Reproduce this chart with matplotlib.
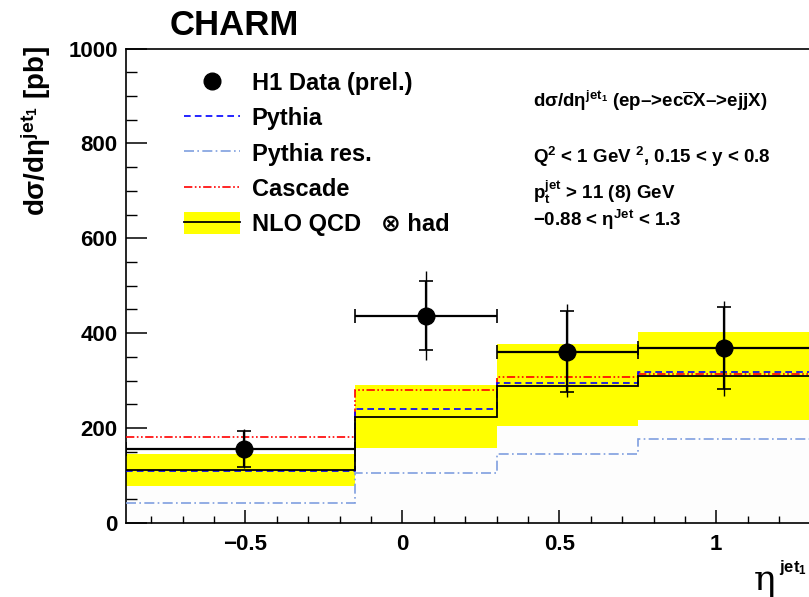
import numpy as np
import matplotlib
matplotlib.use("Agg")
import matplotlib.pyplot as plt
from matplotlib.lines import Line2D
from matplotlib.patches import Patch
from matplotlib.ticker import MultipleLocator

plt.rcParams['font.family'] = ['Liberation Sans', 'DejaVu Sans']
plt.rcParams['font.weight'] = 'bold'
plt.rcParams['mathtext.fontset'] = 'custom'
plt.rcParams['mathtext.rm'] = 'Liberation Sans:bold'
plt.rcParams['mathtext.it'] = 'Liberation Sans:bold'
plt.rcParams['mathtext.bf'] = 'Liberation Sans:bold'

# ---- data ----
bin_edges = [-0.88, -0.15, 0.30, 0.75, 1.30]
data_x = [-0.505, 0.075, 0.525, 1.025]
data_y = [155, 437, 361, 368]
stat_lo = [118, 365, 275, 282]
stat_hi = [193, 510, 446, 455]
tot_lo = [115, 343, 265, 267]
tot_hi = [198, 531, 461, 467]
nlo = [111, 223, 288, 309]
nlo_lo = [77, 157, 203, 216]
nlo_hi = [145, 290, 378, 402]
pythia = [110, 240, 295, 318]
pythia_res = [42, 105, 145, 177]
cascade = [181, 280, 307, 313]

fig = plt.figure(figsize=(8.09, 5.97), dpi=100)
W, H = 809, 597
ax = fig.add_axes([126 / W, (H - 522.7) / H, 684.5 / W, (522.7 - 48.7) / H])

edges = np.array(bin_edges)
ax.stairs(nlo_lo, edges, baseline=0, fill=True, color='#fdfdfd', zorder=1)
for i in range(len(nlo)):
    ax.fill_between([edges[i], edges[i + 1]], nlo_lo[i], nlo_hi[i],
                    color='#ffff00', lw=0, zorder=2)

ls_res = (0, (6, 2, 1, 2))
ls_cas = (0, (5, 1.5, 1, 1.5, 1, 1.5))
ls_py = (0, (4, 2.5))
ax.stairs(pythia_res, edges, baseline=None, color='#7f9fdf', lw=1.2,
          linestyle=ls_res, zorder=3)
ax.stairs(cascade, edges, baseline=None, color='#ff0000', lw=1.2,
          linestyle=ls_cas, zorder=3)
ax.stairs(pythia, edges, baseline=None, color='#0000ff', lw=1.2,
          linestyle=ls_py, zorder=4)
ax.stairs(nlo, edges, baseline=None, color='black', lw=1.3, zorder=5)

dx = np.array(data_x)
dy = np.array(data_y)
xerr = [dx - edges[:-1], edges[1:] - dx]
ax.errorbar(dx, dy, yerr=[dy - np.array(tot_lo), np.array(tot_hi) - dy],
            fmt='none', ecolor='black', elinewidth=1.0, capsize=0, zorder=6)
ax.errorbar(dx, dy, xerr=xerr, yerr=[dy - np.array(stat_lo), np.array(stat_hi) - dy],
            fmt='o', color='black', ms=12, elinewidth=1.6, capsize=5,
            capthick=1.2, zorder=7)

ax.set_xlim(-0.88, 1.30)
ax.set_ylim(0, 1000)
ax.xaxis.set_minor_locator(MultipleLocator(0.1))
ax.yaxis.set_major_locator(MultipleLocator(200))
ax.yaxis.set_minor_locator(MultipleLocator(50))
ax.set_xticks([-0.5, 0, 0.5, 1])
ax.set_xticklabels(['\u22120.5', '0', '0.5', '1'])
ax.tick_params(axis='y', which='major', direction='in', length=15, width=1.1,
               labelsize=16, pad=6)
ax.tick_params(axis='y', which='minor', direction='in', length=7.7, width=1.0)
ax.tick_params(axis='x', which='major', direction='in', length=9.6, width=1.1,
               labelsize=16, pad=8)
ax.tick_params(axis='x', which='minor', direction='in', length=4.8, width=1.0)
for s in ax.spines.values():
    s.set_linewidth(1.2)
for lab in ax.get_xticklabels() + ax.get_yticklabels():
    lab.set_fontweight('bold')

# legend
handles = [
    Line2D([], [], marker='o', color='black', ms=12, ls='none'),
    Line2D([], [], color='#0000ff', lw=1.2, linestyle=ls_py),
    Line2D([], [], color='#7f9fdf', lw=1.2, linestyle=ls_res),
    Line2D([], [], color='#ff0000', lw=1.2, linestyle=ls_cas),
    (Patch(facecolor='#ffff00', edgecolor='none'), Line2D([], [], color='black', lw=1.3)),
]
labels = ['H1 Data (prel.)', 'Pythia', 'Pythia res.', 'Cascade', 'NLO QCD   \u2297 had']
leg = ax.legend(handles, labels, loc='upper left',
                bbox_to_anchor=(184 / W, 1 - 71 / H), bbox_transform=fig.transFigure,
                frameon=False, fontsize=17, handlelength=2.37, handleheight=1.05,
                labelspacing=0.48, handletextpad=0.5, borderpad=0, borderaxespad=0)
for t in leg.get_texts():
    t.set_fontweight('bold')

# annotation text
tx = 533 / W
fs_a = 13.5
fig.text(tx, 1 - 107 / H, 'd\u03c3/d\u03b7$^{\\mathrm{jet}_1}$ (ep\u2013>ec$\\overline{\\mathrm{c}}$X\u2013>ejjX)',
         fontsize=fs_a, fontweight='bold', va='baseline')
fig.text(tx, 1 - 163 / H, 'Q$^2$ < 1 GeV $^2$, 0.15 < y < 0.8',
         fontsize=fs_a, fontweight='bold', va='baseline')
fig.text(tx, 1 - 199 / H, '$\\mathrm{p}_\\mathrm{t}^\\mathrm{jet}$ > 11 (8) GeV',
         fontsize=fs_a, fontweight='bold', va='baseline')
fig.text(tx, 1 - 226 / H, '\u22120.88 < \u03b7$^{\\mathrm{Jet}}$ < 1.3',
         fontsize=fs_a, fontweight='bold', va='baseline')

# title and axis labels
fig.text(170 / W, 1 - 35 / H, 'CHARM', fontsize=25, fontweight='bold', va='baseline')
fig.text(36 / W, 1 - 46 / H, 'd\u03c3/d\u03b7$^{\\mathrm{jet}_1}$ [pb]', rotation=90,
         fontsize=20, fontweight='bold', ha='center', va='top')
fig.text(754 / W, 1 - 590 / H, '\u03b7', fontsize=26, fontweight='normal',
         family=['DejaVu Serif', 'DejaVu Sans'], va='baseline')
fig.text(779 / W, 1 - 572 / H, 'jet$_1$', fontsize=12, fontweight='bold',
         va='baseline')

fig.savefig('out.png', dpi=100)
